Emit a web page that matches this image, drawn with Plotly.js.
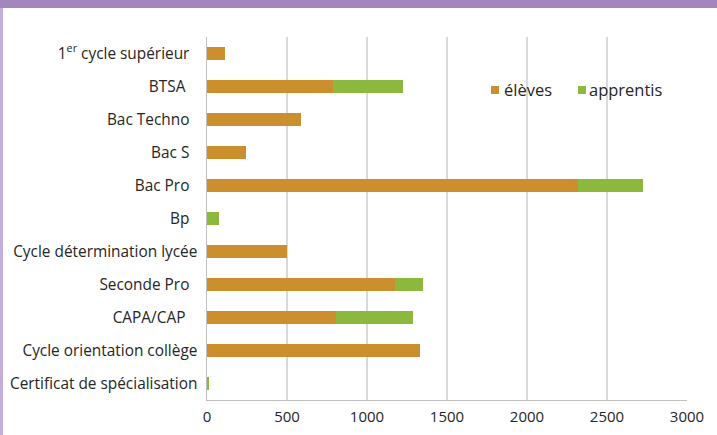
<!DOCTYPE html>
<html><head><meta charset="utf-8">
<script src="https://cdn.plot.ly/plotly-3.0.1.min.js"></script>
<style>
html,body{margin:0;padding:0;background:#fff;}
#wrap{position:relative;width:717px;height:435px;overflow:hidden;}
#chart{position:absolute;left:0;top:0;width:717px;height:435px;}
#topband{position:absolute;left:0;top:0;width:717px;height:8px;background:#A386BE;}
#leftband{position:absolute;left:0;top:8px;width:3px;height:427px;background:#C3AEDA;}
</style></head>
<body><div id="wrap"><div id="chart"></div><div id="topband"></div><div id="leftband"></div></div>
<script>
const categories = ["1<sup>er</sup> cycle supérieur\u00A0\u00A0","BTSA\u00A0\u00A0\u00A0","Bac Techno\u00A0\u00A0","Bac S\u00A0\u00A0","Bac Pro\u00A0\u00A0","Bp\u00A0\u00A0","Cycle détermination lycée","Seconde Pro\u00A0\u00A0","CAPA/CAP\u00A0\u00A0\u00A0","Cycle orientation collège","Certificat de spécialisation"];
const eleves =    [110, 785, 590, 245, 2316, 0, 497, 1173, 804, 1330, 0];
const apprentis = [0,   438, 0,   0,   409,  78, 0,  176,  481, 0,    15];
const seriesNames = ["élèves","apprentis"];
const seriesColors = ["#CC8F2D","#8DB83E"];

const traces = [
  {type:'bar', orientation:'h', name:seriesNames[0], y:categories, x:eleves, marker:{color:seriesColors[0]}, hoverinfo:'x+y'},
  {type:'bar', orientation:'h', name:seriesNames[1], y:categories, x:apprentis, marker:{color:seriesColors[1]}, hoverinfo:'x+y'}
];
// legend drawn as paper-positioned swatches + labels
const swatchX = [0.5917, 0.7729];
const labelX = [0.6188, 0.7958];
const shapes = seriesNames.map((n,i)=>({
  type:'rect', xref:'paper', yref:'paper', x0:swatchX[i], x1:swatchX[i]+0.0167, y0:0.843, y1:0.865,
  fillcolor:seriesColors[i], line:{width:0}
}));
const annotations = seriesNames.map((n,i)=>({
  xref:'paper', yref:'paper', x:labelX[i], y:0.854, xanchor:'left', yanchor:'middle', showarrow:false,
  text:n, xshift:-2, font:{size:16.5, color:'#262626'}
}));
const layout = {
  width:717, height:435,
  margin:{l:207, r:30, t:37, b:35},
  barmode:'stack', bargap:0.58,
  paper_bgcolor:'#fff', plot_bgcolor:'#fff',
  font:{family:'"Open Sans", sans-serif', size:15, color:'#262626'},
  xaxis:{range:[0,3000], dtick:500, showgrid:true, gridcolor:'#d9d9d9', gridwidth:1.5,
         showline:true, linecolor:'#c0c0c0', linewidth:1, zeroline:false, ticks:'', ticklabelstandoff:3,
         tickfont:{size:15, color:'#262626'}, fixedrange:true},
  yaxis:{autorange:'reversed', type:'category', showline:true, linecolor:'#c0c0c0', linewidth:1.5, ticks:'',
         ticklabelstandoff:5, tickfont:{size:15.4, color:'#262626'}, showgrid:false},
  shapes:shapes,
  annotations:annotations,
  showlegend:false
};
Plotly.newPlot('chart', traces, layout, {displayModeBar:false, staticPlot:true});
</script></body></html>
